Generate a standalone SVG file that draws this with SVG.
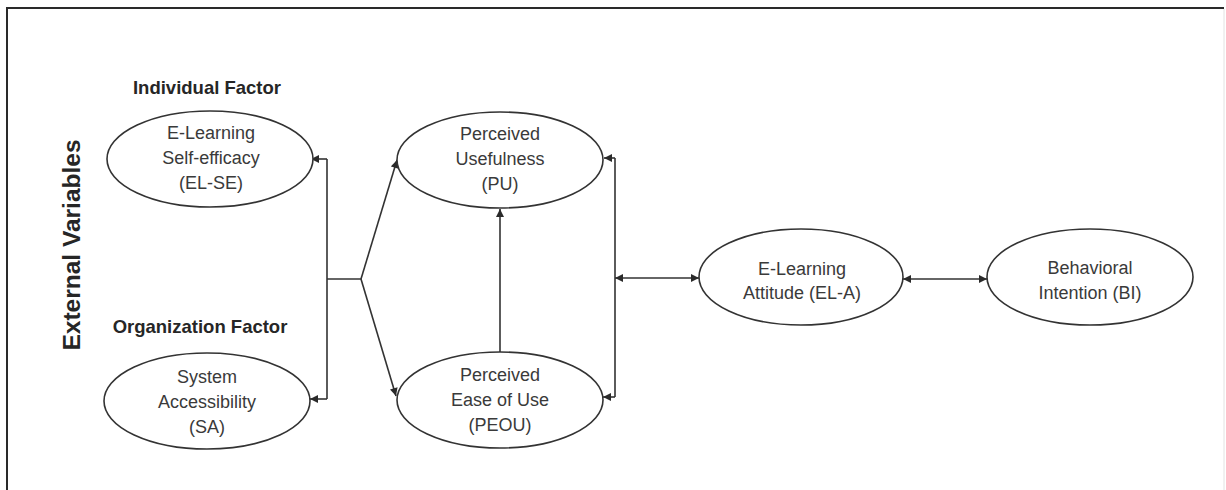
<svg xmlns="http://www.w3.org/2000/svg" width="1226" height="490" viewBox="0 0 1226 490">
<style>
.bg{fill:#ffffff}
.frame{stroke:#2a2a2a;stroke-width:2;fill:none}
.faint{stroke:#e2e2e2;stroke-width:1;fill:none}
.node ellipse{fill:#ffffff;stroke:#333333;stroke-width:1.6}
.lbl{font-family:"Liberation Sans",Arial,sans-serif;font-size:18px;fill:#3a3a3a;text-anchor:middle}
.hdr{font-family:"Liberation Sans",Arial,sans-serif;font-size:18.5px;font-weight:bold;fill:#262626;text-anchor:middle}
.side{font-family:"Liberation Sans",Arial,sans-serif;font-size:24.5px;font-weight:bold;fill:#262626;text-anchor:middle}
.conn path{stroke:#333333;stroke-width:1.6;fill:none}
</style>
<defs>
<marker id="ah" viewBox="0 0 10 10" refX="10" refY="5" markerWidth="9" markerHeight="8" orient="auto-start-reverse" markerUnits="userSpaceOnUse">
<path d="M0,0 L10,5 L0,10 z" fill="#2a2a2a"/>
</marker>
</defs>
<rect class="bg" x="0" y="0" width="1226" height="490"/>
<path class="frame" d="M7,490 V8 H1224"/>
<path class="faint" d="M1224,9 V490"/>

<g id="labels">
<text class="side" transform="translate(80,245) rotate(-90)">External Variables</text>
<text class="hdr" x="207" y="94">Individual Factor</text>
<text class="hdr" x="200" y="333">Organization Factor</text>
</g>

<g class="conn" id="connectors">
<path d="M327,159 V399"/>
<path d="M327,159 H311" marker-end="url(#ah)"/>
<path d="M327,399 H310" marker-end="url(#ah)"/>
<path d="M327,279 H361"/>
<path d="M361,279 L397,160" marker-end="url(#ah)"/>
<path d="M361,279 L396,396" marker-end="url(#ah)"/>
<path d="M500,353 V209" marker-end="url(#ah)"/>
<path d="M615,158 V397"/>
<path d="M615,158 H604" marker-end="url(#ah)"/>
<path d="M615,397 H603" marker-end="url(#ah)"/>
<path d="M615,278 H699" marker-start="url(#ah)" marker-end="url(#ah)"/>
<path d="M903,279 H987" marker-start="url(#ah)" marker-end="url(#ah)"/>
</g>

<g class="node" id="el-se">
<ellipse cx="210" cy="159" rx="103" ry="48"/>
<text class="lbl" x="211" y="139">E-Learning</text>
<text class="lbl" x="211" y="164">Self-efficacy</text>
<text class="lbl" x="211" y="189">(EL-SE)</text>
</g>

<g class="node" id="sa">
<ellipse cx="207" cy="401" rx="103" ry="48"/>
<text class="lbl" x="207" y="383">System</text>
<text class="lbl" x="207" y="408">Accessibility</text>
<text class="lbl" x="207" y="433">(SA)</text>
</g>

<g class="node" id="pu">
<ellipse cx="500" cy="160" rx="103" ry="48"/>
<text class="lbl" x="500" y="140">Perceived</text>
<text class="lbl" x="500" y="165">Usefulness</text>
<text class="lbl" x="500" y="190">(PU)</text>
</g>

<g class="node" id="peou">
<ellipse cx="500" cy="400" rx="103" ry="48"/>
<text class="lbl" x="500" y="381">Perceived</text>
<text class="lbl" x="500" y="406">Ease of Use</text>
<text class="lbl" x="500" y="431">(PEOU)</text>
</g>

<g class="node" id="el-a">
<ellipse cx="801" cy="277" rx="102" ry="48"/>
<text class="lbl" x="802" y="275">E-Learning</text>
<text class="lbl" x="802" y="299">Attitude (EL-A)</text>
</g>

<g class="node" id="bi">
<ellipse cx="1090" cy="277" rx="103" ry="48"/>
<text class="lbl" x="1090" y="274">Behavioral</text>
<text class="lbl" x="1090" y="299">Intention (BI)</text>
</g>
</svg>
